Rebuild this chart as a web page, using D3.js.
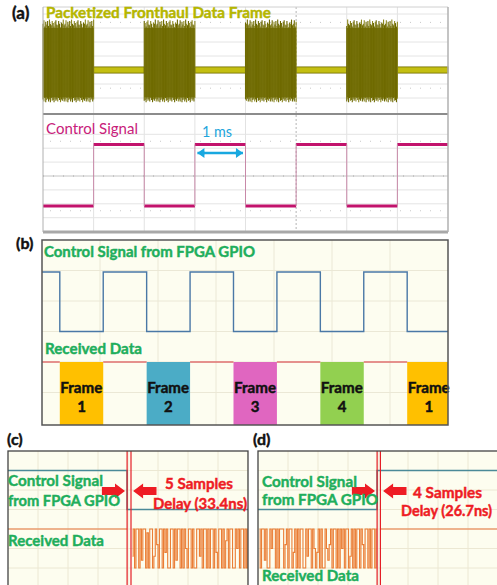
<!DOCTYPE html>
<html lang="en">
<head>
<meta charset="UTF-8">
<title>Fronthaul control timing</title>
<style>
  *{box-sizing:border-box;}
  body{margin:0;background:#fff;}
  #main{width:497px;height:585px;}
  text{font-family:Lato,"Open Sans",sans-serif;}
</style>
</head>
<body>
<div id="main"></div>
<script src="https://d3js.org/d3.v7.min.js"></script>
<script>
/*===== data =====*/
// (a) scope capture, time in ms
const burstStarts = [0, 2, 4, 6]
const burstLength = 1
const idleStarts = [1, 3, 5, 7]
const burstPeakTop = [3.3, 3.55, 3.1, 3.45, 3.25, 3.5, 3.15, 3.6, 3.3, 3.2, 3.5, 3.35, 3.1, 3.45, 3.55, 3.25, 3.2, 3.5, 3.3, 3.05, 3.4, 3.3, 3.6, 3.2]
const burstPeakBottom = [-2.1, -2.25, -2.0, -2.3, -2.15, -2.05, -2.25, -2.1, -2.3, -2.0, -2.2, -2.15, -2.3, -2.05, -2.2, -2.1, -2.25, -2.0, -2.15, -2.3, -2.1, -2.2, -2.05, -2.25]
const idleBand = [-0.22, 0.22]
const ctrlStatesA = [0, 1, 0, 1, 0, 1, 0, 1]

// (b) timing diagram, time in half periods
const ctrlEdgesB = [-0.41, 0, 1, 2, 3, 4, 5, 6, 7, 8, 8.94]
const ctrlStatesB = [1, 0, 1, 0, 1, 0, 1, 0, 1, 0]
const frameSlots = [0, 2, 4, 6, 8]
const frameLabels = ['1', '2', '3', '4', '1']

// (c)/(d) zoomed captures, time in divisions
const markerC = [3.97, 4.1]
const markerD = [3.97, 4.08]
const samplePeriod = 0.046
const dataC = [0.3,1,0,1,1,0,1,0.2,1,1,0,0.9,0,1,1,0,0.3,1,0.6,0,1,1,0,1,0.4,1,0,0,1,1,0,1,0.2,1,1,0,1,0,1,0.5,0,1,1,0,1,0,0,1,1,0.3,1,0,1,1,0,1,0,1,1,0,1,0.4,0,1,1,0,1,0,0.7,1,0,1,1,0,0,1,0.5,1,0,1,1,0,1,0,1,0.3,1,0]
const dataD = [1,0,1,1,0.2,1,0,0,1,0.5,1,1,0,1,0,1,1,1,0,0.6,1,0,1,1,0,0.4,1,0,1,0,1,1,0,0,1,0.3,1,1,0,1,0.5,0,0.4,1,0,1,0,0,1,0.5,0.2,0.6,1,0,1,1,0,1,0,1,0.5,1,0,1,1,0,0.3,1,0,1,0,1,1,0,1,0.6,0,1,1,0,1,0,1,1,0,1,0.2,1]

const frameColors = ['#ffc000', '#4bacc6', '#e066c0', '#92d050', '#ffc000']

/*===== svg =====*/
const W = 497, H = 585
const svg = d3.select('#main').append('svg')
  .attr('xmlns', 'http://www.w3.org/2000/svg')
  .attr('width', W).attr('height', H)
  .attr('viewBox', `0 0 ${W} ${H}`)

function label(g, txt, x, y, o) {
  const fill = o.fill || '#111'
  const t = g.append('text').attr('x', x).attr('y', y).text(txt)
    .attr('font-size', o.size).attr('font-weight', o.weight || 'bold')
    .attr('fill', fill)
  if (!o.weight) t.attr('stroke', fill).attr('stroke-width', 0.45)
  if (o.len) t.attr('textLength', o.len).attr('lengthAdjust', 'spacingAndGlyphs')
  if (o.anchor) t.attr('text-anchor', o.anchor)
  return t
}

function blockArrow(g, x0, x1, yc, dir, o) {
  const tip = dir > 0 ? x1 : x0, tail = dir > 0 ? x0 : x1
  const base = tip - dir * o.head
  const p = d3.path()
  p.moveTo(tail, yc - o.shaft); p.lineTo(base, yc - o.shaft); p.lineTo(base, yc - o.hh)
  p.lineTo(tip, yc); p.lineTo(base, yc + o.hh); p.lineTo(base, yc + o.shaft)
  p.lineTo(tail, yc + o.shaft); p.closePath()
  g.append('path').attr('d', p.toString()).attr('fill', o.fill)
}

/*===== (a) =====*/
const gA = svg.append('g')
const tA = d3.scaleLinear().domain([0, 8]).range([43, 448])
const yA = d3.scaleLinear().domain([-4, 4]).range([126, 14])
const yA2 = d3.scaleLinear().domain([-4, 4]).range([231.6, 120.4])
const yCtrlA = d3.scaleLinear().domain([0, 1]).range([206, 144.5])

gA.append('rect').attr('x', 43).attr('y', 7).attr('width', 405).attr('height', 225).attr('fill', '#fff')
// grid
d3.range(1, 8).forEach(d => {
  gA.append('line').attr('x1', tA(d)).attr('x2', tA(d)).attr('y1', 7).attr('y2', 232)
    .attr('stroke', d === 5 ? '#b5b5b5' : '#e2e2e2').attr('stroke-dasharray', d === 5 ? '2,2' : null)
})
d3.range(-2, 5).forEach(d => {
  gA.append('line').attr('x1', 43).attr('x2', 448).attr('y1', yA(d)).attr('y2', yA(d)).attr('stroke', '#e4e4e4')
})
d3.range(-4, 4).forEach(d => {
  gA.append('line').attr('x1', 43).attr('x2', 448).attr('y1', yA2(d)).attr('y2', yA2(d))
    .attr('stroke', d === 0 ? '#c4c4c4' : '#e4e4e4')
})
// dotted tick rows
;[yA(3.4), yA(-1.3), yA2(2.5), yA2(-2.5)].forEach(y => {
  gA.append('line').attr('x1', 50).attr('x2', 448).attr('y1', y).attr('y2', y)
    .attr('stroke', '#c8c8c8').attr('stroke-dasharray', '1,9')
})
gA.append('line').attr('x1', 43).attr('x2', 448).attr('y1', yA2(0)).attr('y2', yA2(0))
  .attr('stroke', '#aaa').attr('stroke-dasharray', '1,9')

// idle band
idleStarts.forEach(s => {
  gA.append('rect').attr('x', tA(s)).attr('width', tA(s + 1) - tA(s))
    .attr('y', yA(idleBand[1])).attr('height', yA(idleBand[0]) - yA(idleBand[1]))
    .attr('fill', '#c4bf12').attr('stroke', '#6f6b00').attr('stroke-width', 0.8)
})
// bursts
burstStarts.forEach(s => {
  const n = 56
  d3.range(n).forEach(i => {
    const t = s + burstLength * i / (n - 1)
    const k = (i + s * 5) % burstPeakTop.length
    gA.append('line').attr('x1', tA(t)).attr('x2', tA(t))
      .attr('y1', yA(burstPeakTop[k])).attr('y2', yA(burstPeakBottom[k]))
      .attr('stroke', i % 3 === 1 ? '#8c8820' : '#6c6800').attr('stroke-width', 1.1)
  })
  gA.append('rect').attr('x', tA(s)).attr('width', tA(s + burstLength) - tA(s))
    .attr('y', yA(3.0)).attr('height', yA(-1.95) - yA(3.0)).attr('fill', '#6e6a00').attr('opacity', 0.85)
})

// control signal
ctrlStatesA.forEach((v, i) => {
  gA.append('line').attr('x1', tA(i)).attr('x2', tA(i + 1)).attr('y1', yCtrlA(v)).attr('y2', yCtrlA(v))
    .attr('stroke', '#c2126c').attr('stroke-width', 3)
  if (i > 0) {
    gA.append('line').attr('x1', tA(i)).attr('x2', tA(i))
      .attr('y1', yCtrlA(ctrlStatesA[i - 1])).attr('y2', yCtrlA(v))
      .attr('stroke', '#c889a8').attr('stroke-width', 1)
  }
})

// frame lines
gA.append('line').attr('x1', 43).attr('x2', 448).attr('y1', 7).attr('y2', 7).attr('stroke', '#d0d0d0')
gA.append('line').attr('x1', 43).attr('x2', 448).attr('y1', 114).attr('y2', 114).attr('stroke', '#8c8c8c').attr('stroke-width', 2)
gA.append('line').attr('x1', 43).attr('x2', 448).attr('y1', 232).attr('y2', 232).attr('stroke', '#a8a8a8').attr('stroke-width', 3)
gA.append('line').attr('x1', 43).attr('x2', 43).attr('y1', 7).attr('y2', 232).attr('stroke', '#b0b0b0')
gA.append('line').attr('x1', 448).attr('x2', 448).attr('y1', 7).attr('y2', 232).attr('stroke', '#b0b0b0').attr('stroke-width', 1.5)

// 1 ms arrow
const ay = 153
const ap = d3.path()
ap.moveTo(tA(3.05), ay); ap.lineTo(tA(3.95), ay)
gA.append('path').attr('d', ap.toString()).attr('stroke', '#18a8e0').attr('stroke-width', 2.5)
blockArrow(gA, tA(3.05), tA(3.2), ay, -1, {head: 7, hh: 5, shaft: 1.2, fill: '#18a8e0'})
blockArrow(gA, tA(3.8), tA(3.95), ay, 1, {head: 7, hh: 5, shaft: 1.2, fill: '#18a8e0'})

label(gA, '(a)', 12, 19, {size: 17})
label(gA, 'Packetized Fronthaul Data Frame', 46, 18, {size: 16, fill: '#b5b600', len: 225})
label(gA, 'Control Signal', 46, 134, {size: 16, weight: 'normal', fill: '#c8207a', len: 92})
label(gA, '1 ms', 202, 137, {size: 15, weight: 'normal', fill: '#1ea5dc', len: 30})

/*===== (b) =====*/
const gB = svg.append('g')
const tB = d3.scaleLinear().domain([-0.41, 8.94]).range([42, 448])
const yB = d3.scaleLinear().domain([0, 6]).range([240, 423])
const xGridB = d3.scaleLinear().domain([0, 7]).range([42, 448])

gB.append('rect').attr('x', 42).attr('y', 240).attr('width', 406).attr('height', 185).attr('fill', '#fdfdf0')
d3.range(1, 7).forEach(d => {
  gB.append('line').attr('x1', xGridB(d)).attr('x2', xGridB(d)).attr('y1', 240).attr('y2', 425).attr('stroke', '#ebe8d6')
})
d3.range(1, 6).forEach(d => {
  gB.append('line').attr('x1', 42).attr('x2', 448).attr('y1', yB(d)).attr('y2', yB(d)).attr('stroke', '#ebe8d6')
})
// frames
frameSlots.forEach((s, i) => {
  const x0 = tB(s), x1 = tB(Math.min(s + 1, 8.94))
  gB.append('rect').attr('x', x0).attr('y', yB(4)).attr('width', x1 - x0).attr('height', 425 - yB(4))
    .attr('fill', frameColors[i])
  label(gB, 'Frame', x0 + 0.5, 393, {size: 15, len: 42})
  label(gB, frameLabels[i], x0 + (tB(s + 1) - x0) / 2, 412, {size: 15, anchor: 'middle'})
})
// received data idle line + control
ctrlStatesB.forEach((v, i) => {
  const x0 = tB(ctrlEdgesB[i]), x1 = tB(ctrlEdgesB[i + 1])
  if (v === 1) gB.append('line').attr('x1', x0).attr('x2', x1).attr('y1', yB(4)).attr('y2', yB(4))
    .attr('stroke', '#e07070').attr('stroke-width', 1.5)
})
const ctrlPathB = []
ctrlStatesB.forEach((v, i) => {
  ctrlPathB.push([ctrlEdgesB[i], v], [ctrlEdgesB[i + 1], v])
})
const lvlB = d3.scaleLinear().domain([0, 1]).range([yB(3), yB(1.05)])
gB.append('path').attr('d', d3.line().x(d => tB(d[0])).y(d => lvlB(d[1]))(ctrlPathB))
  .attr('fill', 'none').attr('stroke', '#4a78a6').attr('stroke-width', 1.4)
gB.append('rect').attr('x', 42).attr('y', 240).attr('width', 406).attr('height', 185)
  .attr('fill', 'none').attr('stroke', '#555').attr('stroke-width', 1.5)

label(gB, '(b)', 16, 249, {size: 16})
label(gB, 'Control Signal from FPGA GPIO', 44, 257, {size: 15.5, fill: '#1fae5c', len: 211})
label(gB, 'Received Data', 45, 354, {size: 15.5, fill: '#1fae5c', len: 97})

/*===== (c) / (d) =====*/
function zoomPanel(x0, x1, marker, ctrlLeft, data, dataOnLeft) {
  const g = svg.append('g')
  const x = d3.scaleLinear().domain([0, 8]).range([x0, x0 + 240])
  const y = d3.scaleLinear().domain([0, 7]).range([451, 587.5])
  const id = 'clip' + x0
  g.append('clipPath').attr('id', id).append('rect').attr('x', x0).attr('y', 451).attr('width', x1 - x0).attr('height', 140)
  const c = g.append('g').attr('clip-path', `url(#${id})`)
  c.append('rect').attr('x', x0).attr('y', 451).attr('width', 260).attr('height', 140).attr('fill', '#fdfdef')
  d3.range(1, 9).forEach(d => {
    c.append('line').attr('x1', x(d)).attr('x2', x(d)).attr('y1', 451).attr('y2', 585).attr('stroke', '#ece8d3')
  })
  d3.range(1, 7).forEach(d => {
    c.append('line').attr('x1', x0).attr('x2', x1).attr('y1', y(d)).attr('y2', y(d)).attr('stroke', '#ece8d3')
  })
  // control: high=1 div, low=3 div
  const ctrlY = s => y(3 - 2 * s)
  const ctrlPts = [[0, ctrlLeft], [marker[0], ctrlLeft], [marker[0], 1 - ctrlLeft], [8.2, 1 - ctrlLeft]]
  c.append('path').attr('d', d3.line().x(d => x(d[0])).y(d => ctrlY(d[1]))(ctrlPts))
    .attr('fill', 'none').attr('stroke', '#4b8a98').attr('stroke-width', 1.5)
  // received data: 1 -> 4 div, 0 -> 6 div
  const dataY = v => y(6 - 2 * v)
  const start = dataOnLeft ? 0.05 : marker[1] + 0.05
  const end = dataOnLeft ? marker[0] : 8.2
  const pts = data.map((v, i) => [start + i * samplePeriod, v]).filter(d => d[0] <= end)
  const flat = dataOnLeft ? [[marker[1], 1], [8.2, 1]] : [[0, 1], [marker[0], 1]]
  c.append('path').attr('d', d3.line().x(d => x(d[0])).y(d => dataY(d[1])).curve(d3.curveStep)(pts))
    .attr('fill', 'none').attr('stroke', '#ea7d35').attr('stroke-width', 1.1)
  c.append('path').attr('d', d3.line().x(d => x(d[0])).y(d => dataY(d[1]))(flat))
    .attr('fill', 'none').attr('stroke', '#e8743a').attr('stroke-width', 1.2)
  // markers
  marker.forEach(m => {
    c.append('line').attr('x1', x(m)).attr('x2', x(m)).attr('y1', 451).attr('y2', 585)
      .attr('stroke', '#e41e26').attr('stroke-width', 1.2)
  })
  const ac = y(2.05)
  blockArrow(c, x(3.13), x(3.9), ac, 1, {head: 10, hh: 7.5, shaft: 4, fill: '#ee1c24'})
  blockArrow(c, x(4.17), x(4.95), ac, -1, {head: 10, hh: 7.5, shaft: 4, fill: '#ee1c24'})
  g.append('rect').attr('x', x0).attr('y', 451).attr('width', 240).attr('height', 140)
    .attr('fill', 'none').attr('stroke', '#444').attr('stroke-width', 1.3)
  return g
}

const gC = zoomPanel(8, 248, markerC, 1, dataC, false)
label(gC, '(c)', 7, 445, {size: 16})
label(gC, 'Control Signal', 8, 486, {size: 16, fill: '#1fae5c', len: 95})
label(gC, 'from FPGA GPIO', 8, 506, {size: 16, fill: '#1fae5c', len: 112})
label(gC, 'Received Data', 8, 546, {size: 16, fill: '#1fae5c', len: 96})
label(gC, '5 Samples', 165, 489, {size: 16, fill: '#ee1c24', len: 68})
label(gC, 'Delay (33.4ns)', 153, 509, {size: 16, fill: '#ee1c24', len: 94})

const gD = zoomPanel(258, 497, markerD, 0, dataD, true)
label(gD, '(d)', 253, 445, {size: 16})
label(gD, 'Control Signal', 262, 487, {size: 16, fill: '#1fae5c', len: 95})
label(gD, 'from FPGA GPIO', 262, 505, {size: 16, fill: '#1fae5c', len: 116})
label(gD, 'Received Data', 262, 581, {size: 16, fill: '#1fae5c', len: 97})
label(gD, '4 Samples', 413, 498, {size: 16, fill: '#ee1c24', len: 69})
label(gD, 'Delay (26.7ns)', 401, 516, {size: 14.5, fill: '#ee1c24'})
</script>
</body>
</html>
